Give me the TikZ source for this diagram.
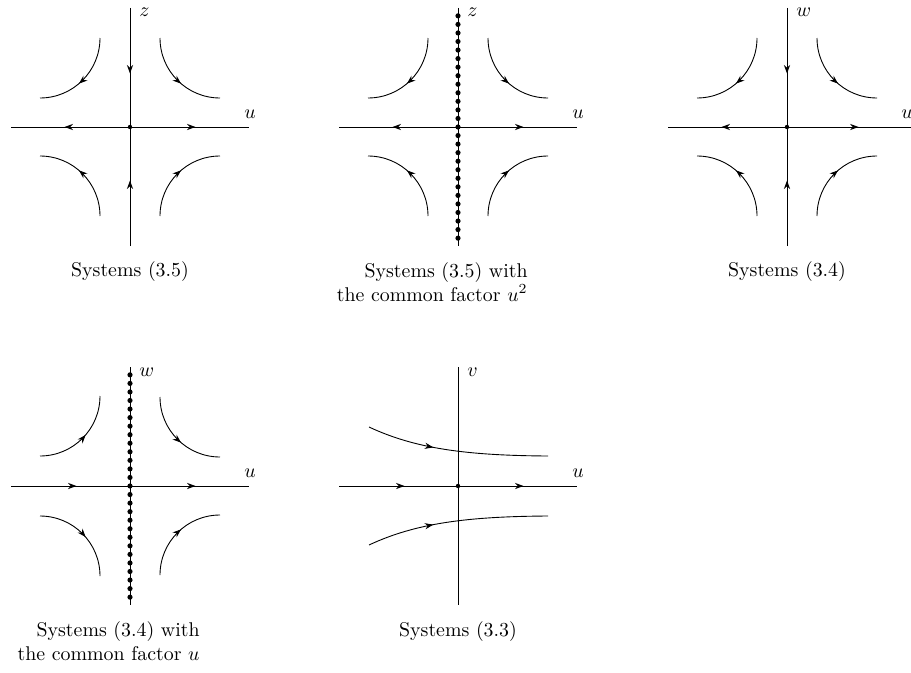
\documentclass[tikz,border=0pt]{standalone}
\usetikzlibrary{arrows.meta,decorations.markings}

\begin{document}
\begin{tikzpicture}[x=0.0177cm,y=0.0177cm,line width=0.45pt,
  flow/.style={postaction={decorate},decoration={markings,
    mark=at position #1 with {\arrow{Stealth[length=1.5mm,width=1.1mm]}}}},
  flow/.default=0.55,
  axlabel/.style={inner sep=0pt},
  caption/.style={inner sep=0pt,align=right}]
\path[use as bounding box] (0,0) rectangle (911,672);

\begin{scope}[shift={(130,545)}]
\draw[flow] (0,119) -- (0,0);
\draw[flow] (0,-119) -- (0,0);
\draw[flow] (0,0) -- (-119,0);
\draw[flow] (0,0) -- (119,0);
\fill (0,0) circle[radius=1.1pt];
\draw[flow] (-30,89) arc[start angle=0,end angle=-90,radius=60];
\draw[flow] (30,89) arc[start angle=180,end angle=270,radius=60];
\draw[flow] (-30,-89) arc[start angle=0,end angle=90,radius=60];
\draw[flow] (30,-89) arc[start angle=180,end angle=90,radius=60];
\node[axlabel,anchor=base west] (z1) at (9,110) {$z$};
\node[axlabel,anchor=base] (u1) at (120,9) {$u$};
\node[axlabel,anchor=base] (cap1) at (0,-149) {Systems (3.5)};
\end{scope}

\begin{scope}[shift={(458,545)}]
\draw (0,119) -- (0,-119);
\foreach \k in {-13,...,13}
  \fill (0,\k*8.55) circle[radius=1.3pt];
\draw[flow] (0,0) -- (-119,0);
\draw[flow] (0,0) -- (119,0);
\draw[flow] (-30,89) arc[start angle=0,end angle=-90,radius=60];
\draw[flow] (30,89) arc[start angle=180,end angle=270,radius=60];
\draw[flow] (-30,-89) arc[start angle=0,end angle=90,radius=60];
\draw[flow] (30,-89) arc[start angle=180,end angle=90,radius=60];
\node[axlabel,anchor=base west] (z2) at (9,110) {$z$};
\node[axlabel,anchor=base] (u2) at (120,9) {$u$};
\node[caption,anchor=north east] (cap2) at (70,-135)
  {Systems (3.5) with\\the common factor $u^2$};
\end{scope}

\begin{scope}[shift={(787,545)}]
\draw[flow] (0,119) -- (0,0);
\draw[flow] (0,-119) -- (0,0);
\draw[flow] (0,0) -- (-119,0);
\draw[flow] (0,0) -- (130,0);
\fill (0,0) circle[radius=1.1pt];
\draw[flow] (-30,89) arc[start angle=0,end angle=-90,radius=60];
\draw[flow] (30,89) arc[start angle=180,end angle=270,radius=60];
\draw[flow] (-30,-89) arc[start angle=0,end angle=90,radius=60];
\draw[flow] (30,-89) arc[start angle=180,end angle=90,radius=60];
\node[axlabel,anchor=base west] (w3) at (9,110) {$w$};
\node[axlabel,anchor=base] (u3) at (120,9) {$u$};
\node[axlabel,anchor=base] (cap3) at (0,-149) {Systems (3.4)};
\end{scope}

\begin{scope}[shift={(130,186)}]
\draw (0,119) -- (0,-119);
\foreach \k in {-13,...,13}
  \fill (0,\k*8.55) circle[radius=1.3pt];
\draw[flow] (-119,0) -- (0,0);
\draw[flow] (0,0) -- (119,0);
\draw[flow] (-90,30) arc[start angle=-90,end angle=0,radius=60];
\draw[flow] (30,89) arc[start angle=180,end angle=270,radius=60];
\draw[flow] (-90,-30) arc[start angle=90,end angle=0,radius=60];
\draw[flow] (30,-89) arc[start angle=180,end angle=90,radius=60];
\node[axlabel,anchor=base west] (w4) at (9,110) {$w$};
\node[axlabel,anchor=base] (u4) at (120,9) {$u$};
\node[caption,anchor=north east] (cap4) at (70,-135)
  {Systems (3.4) with\\the common factor $u$};
\end{scope}

\begin{scope}[shift={(458,186)}]
\draw (0,119) -- (0,-119);
\draw[flow] (-119,0) -- (0,0);
\draw[flow] (0,0) -- (119,0);
\fill (0,0) circle[radius=1.1pt];
\draw[flow=0.37] (-89,59) .. controls (-42,37) and (10,30.5) .. (90,30);
\draw[flow=0.37] (-89,-59) .. controls (-42,-37) and (10,-30.5) .. (90,-30);
\node[axlabel,anchor=base west] (v5) at (9,110) {$v$};
\node[axlabel,anchor=base] (u5) at (120,9) {$u$};
\node[axlabel,anchor=base] (cap5) at (0,-150) {Systems (3.3)};
\end{scope}
\end{tikzpicture}
\end{document}
